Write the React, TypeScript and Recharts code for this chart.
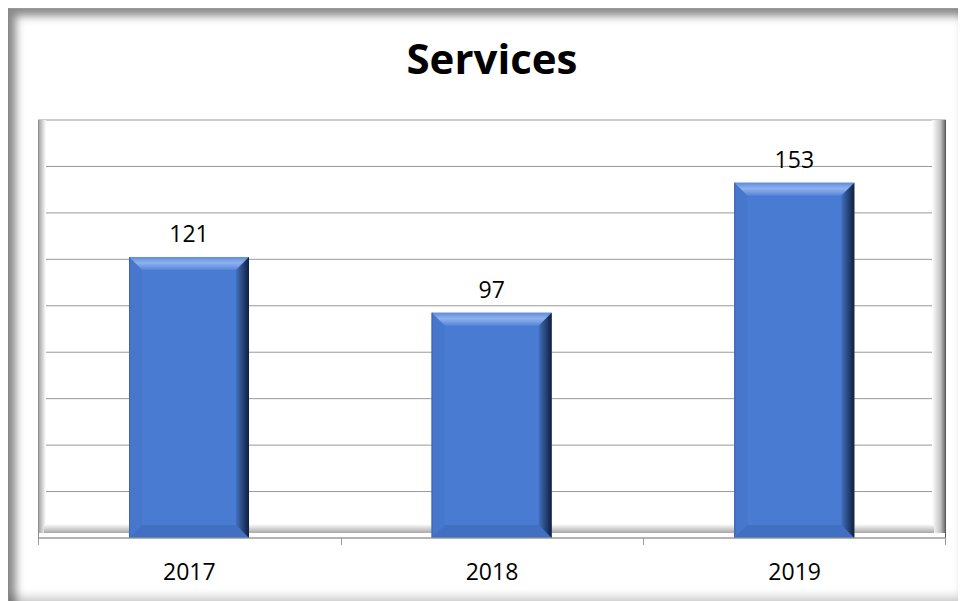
import React from "react"
import { Bar, BarChart, CartesianGrid, LabelList, XAxis, YAxis, usePlotArea } from "recharts"

const years = ["2017", "2018", "2019"]
const services = [121, 97, 153]
const yTicks = [0, 20, 40, 60, 80, 100, 120, 140, 160, 180]

const data = years.map((year, i) => ({ year, services: services[i] }))

const FONT = "'Open Sans', 'Liberation Sans', sans-serif"

// beveled bar like the office "soft edge" style
function BevelBar(props: any) {
  const { x, y, width: w, height: h } = props
  if (!w || !h) return null
  const b = Math.min(13, w / 4, h / 2)
  return (
    <g>
      <rect x={x} y={y} width={w} height={h} fill="#4a7bd2" />
      <polygon
        points={`${x},${y} ${x + w},${y} ${x + w - b},${y + b} ${x + b},${y + b}`}
        fill="url(#bevelTop)"
      />
      <polygon
        points={`${x},${y} ${x + b},${y + b} ${x + b},${y + h - b} ${x},${y + h}`}
        fill="#4677cc"
      />
      <polygon
        points={`${x},${y + h} ${x + b},${y + h - b} ${x + w - b},${y + h - b} ${x + w},${y + h}`}
        fill="#4170c2"
      />
      <polygon
        points={`${x + w},${y} ${x + w},${y + h} ${x + w - b},${y + h - b} ${x + w - b},${y + b}`}
        fill="url(#bevelRight)"
      />
      <line x1={x + 0.5} y1={y} x2={x + 0.5} y2={y + h} stroke="#3a66b4" />
    </g>
  )
}

function PlotFrame() {
  const area = usePlotArea()
  if (!area) return null
  const { x, y, width, height } = area
  const bottom = y + height
  const right = x + width
  const n = years.length
  const step = width / n
  return (
    <g>
      <defs>
        <linearGradient id="bevelTop" x1="0" y1="0" x2="0" y2="1">
          <stop offset="0" stopColor="#5f8ddc" />
          <stop offset="0.45" stopColor="#8fb2ee" />
          <stop offset="1" stopColor="#5585d8" />
        </linearGradient>
        <linearGradient id="bevelRight" x1="0" y1="0" x2="1" y2="0">
          <stop offset="0" stopColor="#4170bf" />
          <stop offset="1" stopColor="#101e3c" />
        </linearGradient>
        <linearGradient id="wallLeft" x1="0" y1="0" x2="1" y2="0">
          <stop offset="0" stopColor="#9a9a9a" />
          <stop offset="1" stopColor="#ffffff" />
        </linearGradient>
        <linearGradient id="wallRight" x1="0" y1="0" x2="1" y2="0">
          <stop offset="0" stopColor="#ffffff" />
          <stop offset="0.6" stopColor="#c4c4c4" />
          <stop offset="1" stopColor="#5e5e5e" />
        </linearGradient>
        <linearGradient id="floor" x1="0" y1="0" x2="0" y2="1">
          <stop offset="0" stopColor="#ffffff" />
          <stop offset="1" stopColor="#a8a8a8" />
        </linearGradient>
      </defs>
      <text
        x={x + width / 2}
        y={65}
        textAnchor="middle"
        fontFamily={FONT}
        fontWeight="bold"
        fontSize={42}
        fill="#000"
      >
        Services
      </text>
      <rect x={x} y={y} width={8} height={height - 5} fill="url(#wallLeft)" />
      <rect x={right - 14} y={y} width={14} height={height - 5} fill="url(#wallRight)" />
      <rect x={x + 6} y={bottom - 14} width={width - 18} height={9} fill="url(#floor)" />
      <line x1={x + 0.5} y1={y} x2={x + 0.5} y2={bottom} stroke="#8c8c8c" />
      <line x1={right - 0.5} y1={y} x2={right - 0.5} y2={bottom} stroke="#5a5a5a" />
      {Array.from({ length: n + 1 }, (_, i) => {
        const tx = Math.round(x + i * step) + (i === n ? -0.5 : 0.5)
        return <line key={i} x1={tx} y1={bottom} x2={tx} y2={bottom + 7} stroke="#9a9a9a" />
      })}
    </g>
  )
}

export default function App() {
  return (
    <div
      style={{
        width: 958,
        height: 593,
        boxShadow: "inset 7px 7px 9px rgba(0,0,0,0.45), inset -5px -5px 9px rgba(0,0,0,0.18)",
        borderLeft: "1px solid #888",
        borderTop: "1px solid #999",
        boxSizing: "border-box",
        background: "#fff",
      }}
    >
      <BarChart
        width={957}
        height={592}
        data={data}
        margin={{ top: 111, right: 20, bottom: 20, left: 29 }}
      >
        <PlotFrame />
        <CartesianGrid vertical={false} stroke="#999999" strokeDasharray="" />
        <YAxis hide domain={[0, 180]} ticks={yTicks} />
        <XAxis
          dataKey="year"
          height={43}
          tickLine={false}
          tickSize={6}
          tickMargin={20}
          axisLine={{ stroke: "#9a9a9a" }}
          tick={{ fill: "#000", fontSize: 23, fontFamily: FONT }}
        />
        <Bar dataKey="services" barSize={120} shape={<BevelBar />} isAnimationActive={false}>
          <LabelList
            dataKey="services"
            position="top"
            offset={15}
            fill="#000"
            fontSize={23}
            fontFamily={FONT}
          />
        </Bar>
      </BarChart>
    </div>
  )
}
